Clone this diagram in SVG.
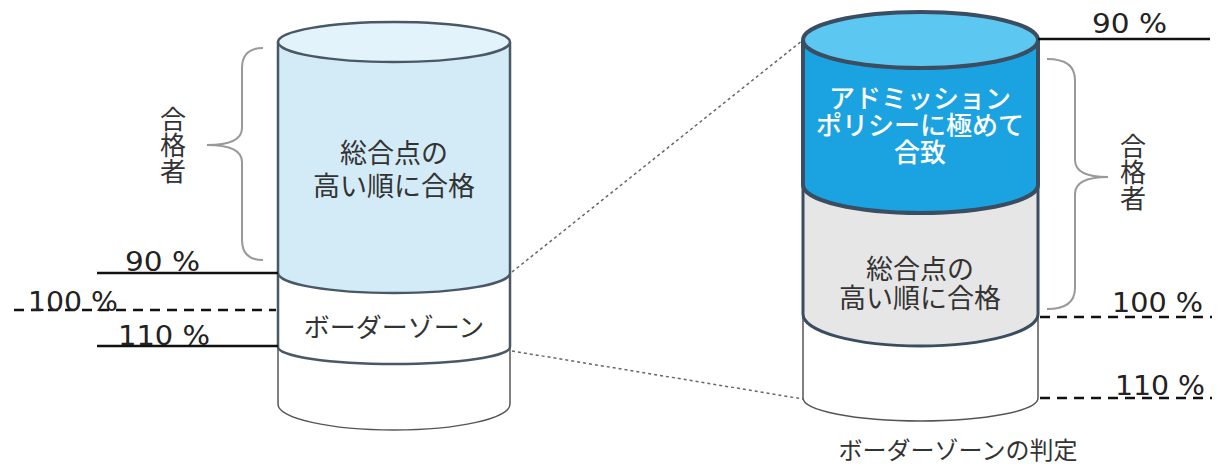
<svg xmlns="http://www.w3.org/2000/svg" width="1220" height="467" viewBox="0 0 1220 467">
<style>
.jp{font-family:"Noto Sans CJK JP","Noto Sans",sans-serif;fill:#333;text-anchor:middle}
.vt{writing-mode:vertical-rl;font-size:26px}
.pct{font-family:"DejaVu Sans","Noto Sans",sans-serif;fill:#222;font-size:26px}
.solid{stroke:#111;stroke-width:2.5;fill:none}
.dash{stroke:#111;stroke-width:2.5;fill:none;stroke-dasharray:10 7}
.dot{stroke:#666;stroke-width:1.5;fill:none;stroke-dasharray:3 3}
.brace{stroke:#999;stroke-width:2;fill:none}
</style>
<rect width="1220" height="467" fill="#fff"/>
<g id="connectors">
<line class="dot" x1="512" y1="272" x2="803" y2="40"/>
<line class="dot" x1="512" y1="351" x2="803" y2="399"/>
</g>
<g id="left-cylinder">
<path d="M278,347 L278,404 A116,26 0 0 0 510,404 L510,347" fill="#fff" stroke="#555" stroke-width="1.5"/>
<path d="M278,273 L278,347 A116,17 0 0 0 510,347 L510,273" fill="#fff" stroke="#4a5866" stroke-width="2.5"/>
<path d="M278,42 L278,273 A116,20 0 0 0 510,273 L510,42" fill="#d3ebf7" stroke="#4a5866" stroke-width="2.5"/>
<ellipse cx="394" cy="42" rx="116" ry="20" fill="#e3f3fb" stroke="#4a5866" stroke-width="2.5"/>
<text class="jp" font-size="27"><tspan x="394" y="163">総合点の</tspan><tspan x="394" y="196">高い順に合格</tspan></text>
<text class="jp" x="394" y="337" font-size="26">ボーダーゾーン</text>
</g>
<g id="left-levels">
<line class="solid" x1="97" y1="273" x2="278" y2="273"/>
<line class="dash" x1="14" y1="310" x2="276" y2="310"/>
<line class="solid" x1="97" y1="346" x2="278" y2="346"/>
<text class="pct" x="125" y="271" textLength="75" lengthAdjust="spacingAndGlyphs">90 %</text>
<text class="pct" x="28" y="311" textLength="90" lengthAdjust="spacingAndGlyphs">100 %</text>
<text class="pct" x="118" y="345" textLength="92" lengthAdjust="spacingAndGlyphs">110 %</text>
</g>
<g id="left-brace">
<path class="brace" d="M263,48 Q242,48 242,68 L242,128 Q242,145 207,145 Q242,145 242,162 L242,240 Q242,260 263,260"/>
<text class="jp vt" x="173" y="145">合格者</text>
</g>
<g id="right-cylinder">
<path d="M803,314 L803,398 A117.5,23 0 0 0 1038,398 L1038,314" fill="#fff" stroke="#555" stroke-width="1.5"/>
<path d="M803,185 L803,314 A117.5,32 0 0 0 1038,314 L1038,185" fill="#e6e6e6" stroke="#3b4d60" stroke-width="3"/>
<path d="M803,40 L803,185 A117.5,28 0 0 0 1038,185 L1038,40" fill="#1aa3e0" stroke="#3b4d60" stroke-width="4"/>
<ellipse cx="920.5" cy="40" rx="117.5" ry="28" fill="#5cc8f2" stroke="#3b4d60" stroke-width="4"/>
<text class="jp" font-size="26" font-weight="500" style="fill:#fff"><tspan x="920" y="108">アドミッション</tspan><tspan x="920" y="135">ポリシーに極めて</tspan><tspan x="920" y="162">合致</tspan></text>
<text class="jp" font-size="27"><tspan x="920" y="279">総合点の</tspan><tspan x="920" y="308">高い順に合格</tspan></text>
</g>
<g id="right-levels">
<line class="solid" x1="1038" y1="39" x2="1210" y2="39"/>
<line class="dash" x1="1040" y1="317" x2="1212" y2="317"/>
<line class="dash" x1="1040" y1="398" x2="1212" y2="398"/>
<text class="pct" x="1092" y="33" textLength="75" lengthAdjust="spacingAndGlyphs">90 %</text>
<text class="pct" x="1112" y="312" textLength="91" lengthAdjust="spacingAndGlyphs">100 %</text>
<text class="pct" x="1115" y="395" textLength="90" lengthAdjust="spacingAndGlyphs">110 %</text>
</g>
<g id="right-brace">
<path class="brace" d="M1047,59 Q1075,59 1075,80 L1075,160 Q1075,177 1108,177 Q1075,177 1075,194 L1075,288 Q1075,309 1047,309"/>
<text class="jp vt" x="1133" y="172">合格者</text>
</g>
<g id="caption">
<text class="jp" x="958" y="459" font-size="24">ボーダーゾーンの判定</text>
</g>
</svg>
